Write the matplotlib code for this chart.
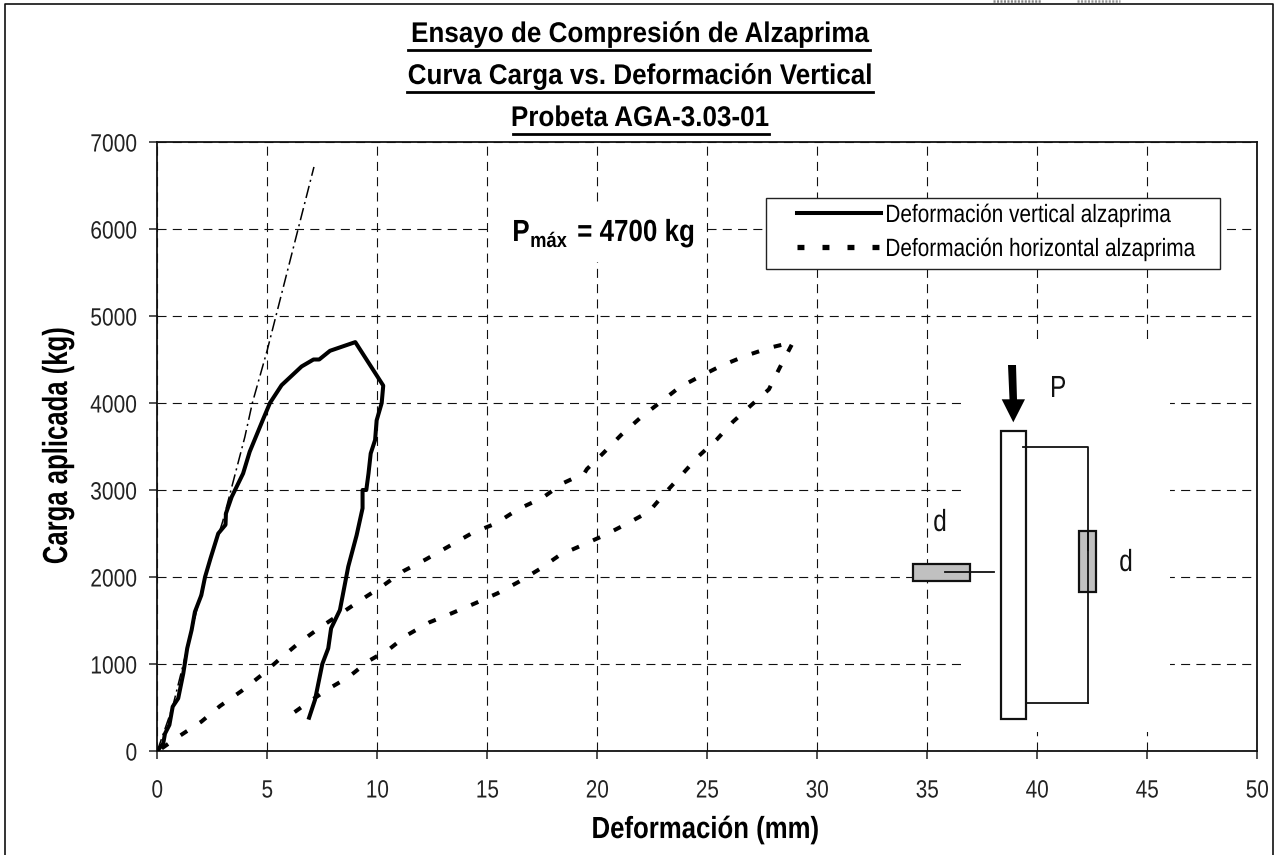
import matplotlib
matplotlib.use("Agg")
import matplotlib.pyplot as plt
from matplotlib.patches import Rectangle, Polygon
from matplotlib.lines import Line2D
from matplotlib.patheffects import AbstractPathEffect
from matplotlib.transforms import Affine2D, IdentityTransform

plt.rcParams['font.family'] = ['Liberation Sans', 'DejaVu Sans']
plt.rcParams['lines.scale_dashes'] = False

# - data
vert_x = [0, 0.27, 0.35, 0.55, 0.7, 0.95, 1.18, 1.36, 1.56, 1.71, 2.0, 2.17, 2.42, 2.77, 3.1, 3.12,
          3.38, 3.9, 4.2, 4.82, 5.12, 5.65, 6.56, 7.1, 7.36, 7.85, 9.0, 10.27, 10.2, 9.97, 9.9,
          9.7, 9.6, 9.5, 9.33, 9.33, 9.06, 8.68, 8.3, 7.9, 7.77, 7.5, 7.17, 6.9]
vert_y = [0, 88, 200, 300, 510, 605, 890, 1180, 1390, 1600, 1790, 2000, 2215, 2500, 2600, 2730,
          2920, 3190, 3440, 3820, 4000, 4205, 4420, 4500, 4500, 4600, 4700, 4200, 4000, 3800, 3575,
          3420, 3190, 3000, 3000, 2790, 2480, 2120, 1620, 1410, 1180, 1000, 590, 383]

horiz_x = [0.2, 1.03, 2.0, 2.85, 3.83, 4.74, 5.55, 6.45, 7.4, 9.3, 10.2, 11.2, 12.21, 14.29, 15.4,
           16.4, 17.52, 18.43, 19.41, 19.53, 20.26, 21.08, 21.96, 22.8, 23.73, 24.7, 25.65, 26.76,
           27.85, 28.9, 28.3, 27.8, 26.97, 26.17, 25.44, 24.58, 23.8, 23.07, 22.35, 21.38, 20.35,
           19.3, 18.3, 17.36, 16.44, 15.47, 14.44, 13.38, 12.37, 11.34, 10.55, 9.6, 8.68, 7.77,
           6.8, 5.95]
horiz_y = [30, 176, 337, 517, 690, 873, 1054, 1245, 1420, 1743, 1890, 2070, 2203, 2502, 2617,
           2779, 2912, 3077, 3192, 3241, 3421, 3632, 3831, 3996, 4180, 4310, 4430, 4544,
           4636, 4700, 4410, 4157, 3969, 3785, 3583, 3383, 3164, 2962, 2751, 2617, 2483,
           2364, 2253, 2088, 1946, 1813, 1697, 1583, 1479, 1330, 1172, 1034, 847, 713,
           548, 395]

slope_x = [0, 0.7, 1.36, 2.17, 2.97, 3.23, 3.98, 4.32, 5.0, 7.12]
slope_y = [0, 510, 1180, 2000, 2636, 2885, 3610, 4000, 4610, 6713]

x_ticks = [0, 5, 10, 15, 20, 25, 30, 35, 40, 45, 50]
y_ticks = [0, 1000, 2000, 3000, 4000, 5000, 6000, 7000]

title_lines = ["Ensayo de Compresión de Alzaprima",
               "Curva Carga vs. Deformación Vertical",
               "Probeta AGA-3.03-01"]

W, H = 1277, 855


# no narrow font installed, so squeeze the glyphs sideways
class Squeeze(AbstractPathEffect):
    def __init__(self, sx, anchor="center"):
        super().__init__()
        self.sx = sx
        self.anchor = anchor

    def draw_path(self, renderer, gc, tpath, affine, rgbFace=None):
        ext = tpath.get_extents()
        ref = {"left": ext.x0, "right": ext.x1, "center": (ext.x0 + ext.x1) / 2}[self.anchor]
        tr = Affine2D().translate(-ref, 0).scale(self.sx, 1).translate(ref, 0) + affine
        renderer.draw_path(gc, tpath, tr, rgbFace)


fig = plt.figure(figsize=(W / 100, H / 100), dpi=100)
ax = fig.add_axes([157.3 / W, (H - 751) / H, 1100 / W, 609 / H])

# image pixels (y down) for the labels and the sketch
px = Affine2D().scale(1, -1).translate(0, H)

ax.set_xlim(0, 50)
ax.set_ylim(0, 7000)
ax.set_xticks(x_ticks)
ax.set_yticks(y_ticks)
ax.tick_params(length=5.8, width=1.1, labelsize=18, color="#222222", labelcolor="#222222")
ax.tick_params(axis="x", pad=14)
ax.tick_params(axis="y", pad=8.5)
for lab in ax.get_xticklabels():
    lab.set_path_effects([Squeeze(0.83)])
for lab in ax.get_yticklabels():
    lab.set_path_effects([Squeeze(0.84, "right")])
ax.grid(True, color="#111111", lw=0.8, ls=(0, (6.5, 4.5)), zorder=1)
ax.set_axisbelow(True)
for s in ax.spines.values():
    s.set_linewidth(1.3)
    s.set_color("#111111")

ax.set_xlabel("Deformación (mm)", fontsize=22, fontweight="bold", va="baseline")
ax.xaxis.set_label_coords(0.498, -0.1429)
ax.xaxis.label.set_path_effects([Squeeze(0.843)])
ax.set_ylabel("Carga aplicada (kg)", fontsize=25, fontweight="bold", va="baseline")
ax.yaxis.set_label_coords(-0.0821, 0.5008)
ax.yaxis.label.set_path_effects([Squeeze(0.74)])

# white boxes that cut the grid
for x0, y0, x1, y1 in [(489, 203, 705, 262), (961, 345, 1170, 732)]:
    ax.add_patch(Rectangle((x0, y0), x1 - x0, y1 - y0, fc="white", ec="none",
                           transform=px, zorder=1.5, clip_on=False))

ax.plot(slope_x, slope_y, color="black", lw=1.1, ls=(0, (9, 3, 1.5, 3)), zorder=3)
l_h, = ax.plot(horiz_x, horiz_y, color="black", lw=2.9, ls=(0, (5.6, 11)), zorder=4,
               label="Deformación horizontal alzaprima")
l_v, = ax.plot(vert_x, vert_y, color="black", lw=2.9, zorder=5,
               label="Deformación vertical alzaprima")

# legend box
ax.add_patch(Rectangle((766, 198), 454, 71, fc="white", ec="#222222", lw=1,
                       transform=px, zorder=6, clip_on=False))
handle_h = Line2D([], [], color="black", lw=3.8, ls=(0, (5, 13)))
leg = ax.legend([l_v, handle_h], [l_v.get_label(), l_h.get_label()],
                loc="upper left", bbox_to_anchor=(797, H - 203), bbox_transform=IdentityTransform(),
                frameon=False, fontsize=18, handlelength=3.36, handletextpad=0.16,
                labelspacing=0.4, borderpad=0, borderaxespad=0)
leg.set_zorder(7)
for lab in leg.get_texts():
    lab.set_path_effects([Squeeze(0.832, "left")])

# Pmax note
note_bold = dict(transform=px, fontweight="bold", va="baseline", zorder=7)
ax.text(512, 241, "P", fontsize=22, ha="left", path_effects=[Squeeze(0.85, "left")], **note_bold)
ax.text(530, 247, "máx", fontsize=15, ha="left", path_effects=[Squeeze(0.88, "left")], **note_bold)
ax.text(577, 241, "= 4700 kg", fontsize=22, ha="left", path_effects=[Squeeze(0.85, "left")], **note_bold)

# outer frame
fig.add_artist(Line2D([5, 5, 1273, 1273], [H, 4, 4, H], color="#111111", lw=1.2, transform=px))
# cut-off text remains above the frame
fig.add_artist(Line2D([993, 1041], [1, 1], color="#888888", lw=1.8, ls=(0, (1.5, 1)), transform=px))
fig.add_artist(Line2D([1077, 1120], [1, 1], color="#999999", lw=1.8, ls=(0, (1.5, 1)), transform=px))

# title with its underlines
for line, y_base, y_ul, x0, x1 in zip(title_lines, [42, 84, 126], [50, 92, 134],
                                      [408, 407, 513], [870, 873, 769]):
    fig.text(640, y_base, line, transform=px, fontsize=20.5, fontweight="bold", ha="center", va="baseline",
             path_effects=[Squeeze(0.915)])
    fig.add_artist(Line2D([x0, x1], [y_ul, y_ul], color="black", lw=2, transform=px))


# - sketch of the prop and gauges
def rect(x0, y0, x1, y1, fc="white", lw=1.6):
    ax.add_patch(Rectangle((x0, y0), x1 - x0, y1 - y0, fc=fc, ec="#111111", lw=lw,
                           transform=px, zorder=8, clip_on=False))


def seg(xs, ys, lw=1.3):
    ax.add_line(Line2D(xs, ys, color="#111111", lw=lw, transform=px, zorder=9, clip_on=False))


rect(1001.3, 430.7, 1025.7, 719)
seg([1023.3, 1087.7, 1087.7], [447.3, 447.3, 703.3])
seg([1087.7, 1025.7], [703.3, 703.3])
rect(1079.3, 531, 1096, 591.7, fc="#C0C0C0")
seg([1087.7, 1087.7], [531, 550])
rect(913.3, 564, 970, 581.3, fc="#C0C0C0")
seg([945, 994.3], [572.3, 572.3])
ax.add_patch(Polygon([(1008, 365), (1016, 365), (1017, 399.3), (1025, 399.3), (1013.3, 422.3),
                      (1001.7, 399.3), (1009.5, 399.3)], fc="black", ec="none",
                     transform=px, zorder=9, clip_on=False))
for s, x_t, y_t in [("P", 1058, 397), ("d", 940, 531), ("d", 1126, 571)]:
    ax.text(x_t, y_t, s, transform=px, fontsize=22, ha="center", va="baseline", zorder=9,
            color="#111111", path_effects=[Squeeze(0.8)])

fig.savefig("out.png", dpi=100)
